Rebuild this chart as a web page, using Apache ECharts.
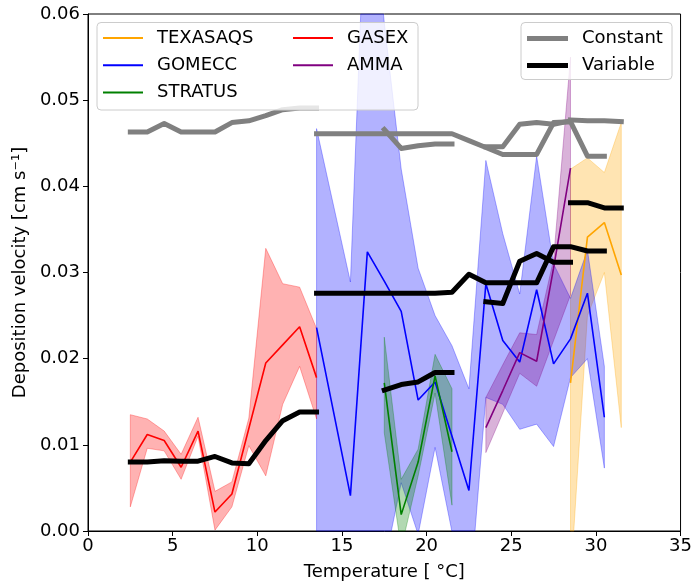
<!DOCTYPE html>
<html>
<head>
<meta charset="utf-8">
<script src="https://cdn.jsdelivr.net/npm/echarts@6/dist/echarts.min.js"></script>
<style>
html,body{margin:0;padding:0;background:#fff;}
#chart{width:695px;height:586px;}
</style>
</head>
<body>
<div id="chart"></div>
<script>
// ---------------- data ----------------
const xTicks = [0, 5, 10, 15, 20, 25, 30, 35];
const yTicks = [0.00, 0.01, 0.02, 0.03, 0.04, 0.05, 0.06];

// GASEX
const gasexT     = [2.5, 3.5, 4.5, 5.5, 6.5, 7.5, 8.5, 9.5, 10.5, 11.5, 12.5, 13.5];
const gasexMean  = [0.0080, 0.0112, 0.0105, 0.0074, 0.0116, 0.0022, 0.0043, 0.0119, 0.0195, 0.0216, 0.0237, 0.0178];
const gasexUp    = [0.0135, 0.0130, 0.0116, 0.0089, 0.0132, 0.0046, 0.0057, 0.0131, 0.0328, 0.0287, 0.0283, 0.0235];
const gasexLo    = [0.0028, 0.0096, 0.0093, 0.0060, 0.0110, 0.0001, 0.0028, 0.0099, 0.0064, 0.0147, 0.0191, 0.0130];
const gasexConst = [0.0463, 0.0463, 0.0473, 0.0463, 0.0463, 0.0463, 0.0474, 0.0476, 0.0482, 0.0489, 0.0491, 0.0491];
const gasexVar   = [0.0080, 0.0080, 0.00815, 0.0081, 0.0081, 0.00865, 0.0079, 0.0078, 0.0105, 0.0128, 0.0138, 0.0138];

// GOMECC
const gomeccT     = [13.5, 15.5, 16.5, 17.5, 18.5, 19.5, 20.5, 21.5, 22.5, 23.5, 24.5, 25.5, 26.5, 27.5, 28.5, 29.5, 30.5];
const gomeccMean  = [0.0236, 0.0041, 0.0324, 0.0290, 0.0255, 0.0152, 0.0173, 0.0110, 0.0047, 0.0287, 0.0221, 0.0196, 0.0280, 0.0194, 0.0223, 0.0276, 0.0132];
const gomeccUp    = [0.0467, 0.0289, 0.0800, 0.0590, 0.0420, 0.0305, 0.0250, 0.0215, 0.0165, 0.0430, 0.0345, 0.0275, 0.0435, 0.0310, 0.0270, 0.0326, 0.0191];
const gomeccLo    = [-0.0100, -0.0100, -0.0100, -0.0040, 0.0056, -0.0004, 0.0097, -0.0001, -0.0087, 0.0155, 0.0147, 0.0118, 0.0124, 0.0098, 0.0178, 0.0200, 0.0073];
const gomeccConst = [0.0461, 0.0461, 0.0461, 0.0461, 0.0461, 0.0461, 0.0461, 0.0461, 0.0453, 0.0445, 0.0437, 0.0437, 0.0437, 0.0474, 0.0475, 0.0435, 0.0435];
const gomeccVar   = [0.0276, 0.0276, 0.0276, 0.0276, 0.0276, 0.0276, 0.0276, 0.0277, 0.0298, 0.0288, 0.0288, 0.0288, 0.0288, 0.0330, 0.0330, 0.0325, 0.0325];

// STRATUS
const stratusT     = [17.5, 18.5, 19.5, 20.5, 21.5];
const stratusMean  = [0.0172, 0.0019, 0.0080, 0.0180, 0.0092];
const stratusUp    = [0.0225, 0.0060, 0.0095, 0.0205, 0.0165];
const stratusLo    = [0.0114, -0.0020, 0.0064, 0.0160, 0.0030];
const stratusConst = [0.0466, 0.0444, 0.0447, 0.0449, 0.0449];
const stratusVar   = [0.01635, 0.0170, 0.0173, 0.0184, 0.0184];

// AMMA
const ammaT     = [23.5, 24.5, 25.5, 26.5, 27.5, 28.5];
const ammaMean  = [0.0120, 0.0163, 0.0207, 0.0197, 0.0305, 0.0421];
const ammaUp    = [0.0155, 0.0193, 0.0230, 0.0228, 0.0315, 0.0550];
const ammaLo    = [0.0091, 0.0137, 0.0183, 0.0168, 0.0221, 0.0274];
const ammaConst = [0.0446, 0.0446, 0.0472, 0.0474, 0.0472, 0.0476];
const ammaVar   = [0.0266, 0.0264, 0.0313, 0.0322, 0.0312, 0.0312];

// TEXASAQS
const texasT     = [28.5, 29.5, 30.5, 31.5];
const texasMean  = [0.0172, 0.0341, 0.0358, 0.0297];
const texasUp    = [0.0420, 0.0433, 0.0416, 0.0474];
const texasLo    = [-0.0060, 0.0250, 0.0300, 0.0120];
const texasConst = [0.0477, 0.0476, 0.0476, 0.0475];
const texasVar   = [0.0381, 0.0381, 0.0375, 0.0375];

// ---------------- build ----------------
const FONT = 'DejaVu Sans';
const campaigns = [
  {name: 'TEXASAQS', color: '#FFA500', rgb: '255,165,0',   T: texasT,   mean: texasMean,   up: texasUp,   lo: texasLo,   c: texasConst,   v: texasVar},
  {name: 'GOMECC',   color: '#0000FF', rgb: '0,0,255',     T: gomeccT,  mean: gomeccMean,  up: gomeccUp,  lo: gomeccLo,  c: gomeccConst,  v: gomeccVar},
  {name: 'STRATUS',  color: '#008000', rgb: '0,128,0',     T: stratusT, mean: stratusMean, up: stratusUp, lo: stratusLo, c: stratusConst, v: stratusVar},
  {name: 'GASEX',    color: '#FF0000', rgb: '255,0,0',     T: gasexT,   mean: gasexMean,   up: gasexUp,   lo: gasexLo,   c: gasexConst,   v: gasexVar},
  {name: 'AMMA',     color: '#800080', rgb: '128,0,128',   T: ammaT,    mean: ammaMean,    up: ammaUp,    lo: ammaLo,    c: ammaConst,    v: ammaVar}
];

// Sutherland-Hodgman polygon clipping against the plot rectangle
function clipPoly(pts, x0, x1, y0, y1) {
  const edges = [
    p => p[0] >= x0, p => p[0] <= x1, p => p[1] >= y0, p => p[1] <= y1
  ];
  const inter = [
    (a, b) => { const t = (x0 - a[0]) / (b[0] - a[0]); return [x0, a[1] + t * (b[1] - a[1])]; },
    (a, b) => { const t = (x1 - a[0]) / (b[0] - a[0]); return [x1, a[1] + t * (b[1] - a[1])]; },
    (a, b) => { const t = (y0 - a[1]) / (b[1] - a[1]); return [a[0] + t * (b[0] - a[0]), y0]; },
    (a, b) => { const t = (y1 - a[1]) / (b[1] - a[1]); return [a[0] + t * (b[0] - a[0]), y1]; }
  ];
  let out = pts;
  for (let e = 0; e < 4; e++) {
    const inp = out; out = [];
    for (let i = 0; i < inp.length; i++) {
      const cur = inp[i], prev = inp[(i + inp.length - 1) % inp.length];
      const cIn = edges[e](cur), pIn = edges[e](prev);
      if (cIn) {
        if (!pIn) out.push(inter[e](prev, cur));
        out.push(cur);
      } else if (pIn) {
        out.push(inter[e](prev, cur));
      }
    }
    if (!out.length) break;
  }
  return out;
}

const pairs = (T, arr) => T.map((t, i) => [t, arr[i]]);
const series = [];
campaigns.forEach((cp) => {
  series.push({
    type: 'custom', silent: true, z: 2,
    data: [[cp.T[0], cp.mean[0]]],
    encode: {x: 0, y: 1},
    renderItem: function (params, api) {
      const cs = params.coordSys;
      const poly = [];
      for (let i = 0; i < cp.T.length; i++) poly.push(api.coord([cp.T[i], cp.up[i]]));
      for (let i = cp.T.length - 1; i >= 0; i--) poly.push(api.coord([cp.T[i], cp.lo[i]]));
      const clipped = clipPoly(poly, cs.x, cs.x + cs.width, cs.y, cs.y + cs.height);
      return {
        type: 'polygon',
        shape: {points: clipped},
        style: {fill: 'rgba(' + cp.rgb + ',0.3)', stroke: 'rgba(' + cp.rgb + ',0.3)', lineWidth: 1}
      };
    }
  });
  series.push({
    name: cp.name, type: 'line', data: pairs(cp.T, cp.mean), symbol: 'none', z: 3,
    lineStyle: {color: cp.color, width: 1.6}, itemStyle: {color: cp.color}
  });
});
campaigns.forEach(cp => {
  series.push({
    name: 'Constant', type: 'line', data: pairs(cp.T, cp.c), symbol: 'none', z: 4,
    lineStyle: {color: '#808080', width: 5, join: 'round', cap: 'square'}, itemStyle: {color: '#808080'}
  });
});
campaigns.forEach(cp => {
  series.push({
    name: 'Variable', type: 'line', data: pairs(cp.T, cp.v), symbol: 'none', z: 5,
    lineStyle: {color: '#000000', width: 5, join: 'round', cap: 'square'}, itemStyle: {color: '#000000'}
  });
});

const legendText = {fontSize: 18, fontFamily: FONT, color: '#000', lineHeight: 18, padding: [0, 0, 0, 9]};
const legendBase = {
  orient: 'vertical', icon: 'rect', itemGap: 9.3, padding: 0, selectedMode: false,
  textStyle: legendText, z: 20
};

const chart = echarts.init(document.getElementById('chart'), null, {renderer: 'canvas'});
chart.setOption({
  animation: false,
  backgroundColor: '#ffffff',
  grid: {left: 88, right: 12, top: 14, bottom: 52, show: true, borderColor: '#000', borderWidth: 1, backgroundColor: 'transparent'},
  xAxis: {
    type: 'value', min: xTicks[0], max: xTicks[xTicks.length - 1], interval: 5,
    name: 'Temperature [ °C]', nameLocation: 'middle', nameGap: 32,
    nameTextStyle: {fontSize: 18, fontFamily: FONT, color: '#000'},
    axisLine: {show: true, lineStyle: {color: '#000', width: 1}},
    axisTick: {show: true, inside: false, length: 5, lineStyle: {color: '#000'}},
    axisLabel: {fontSize: 18, fontFamily: FONT, color: '#000', margin: 6},
    splitLine: {show: false}
  },
  yAxis: {
    type: 'value', min: yTicks[0], max: yTicks[yTicks.length - 1], interval: 0.01,
    name: 'Deposition velocity [cm s⁻¹]', nameLocation: 'middle', nameGap: 56,
    nameTextStyle: {fontSize: 18, fontFamily: FONT, color: '#000'},
    axisLine: {show: true, lineStyle: {color: '#000', width: 1}},
    axisTick: {show: true, inside: false, length: 5, lineStyle: {color: '#000'}},
    axisLabel: {fontSize: 18, fontFamily: FONT, color: '#000', margin: 8, formatter: v => v.toFixed(2)},
    splitLine: {show: false}
  },
  legend: [
    Object.assign({}, legendBase, {data: ['TEXASAQS', 'GOMECC', 'STRATUS'], left: 103, top: 29, itemWidth: 40, itemHeight: 2}),
    Object.assign({}, legendBase, {data: ['GASEX', 'AMMA'], left: 293, top: 29, itemWidth: 40, itemHeight: 2}),
    Object.assign({}, legendBase, {data: ['Constant', 'Variable'], left: 527, top: 29.5, itemWidth: 41, itemHeight: 5, itemGap: 9})
  ],
  graphic: [
    {type: 'rect', z: 15, shape: {x: 97, y: 22.5, width: 321, height: 87.5, r: 4},
     style: {fill: 'rgba(255,255,255,0.8)', stroke: '#cccccc', lineWidth: 1}},
    {type: 'rect', z: 15, shape: {x: 521, y: 22.5, width: 151, height: 57, r: 4},
     style: {fill: 'rgba(255,255,255,0.8)', stroke: '#cccccc', lineWidth: 1}}
  ],
  series: series
});
</script>
</body>
</html>
